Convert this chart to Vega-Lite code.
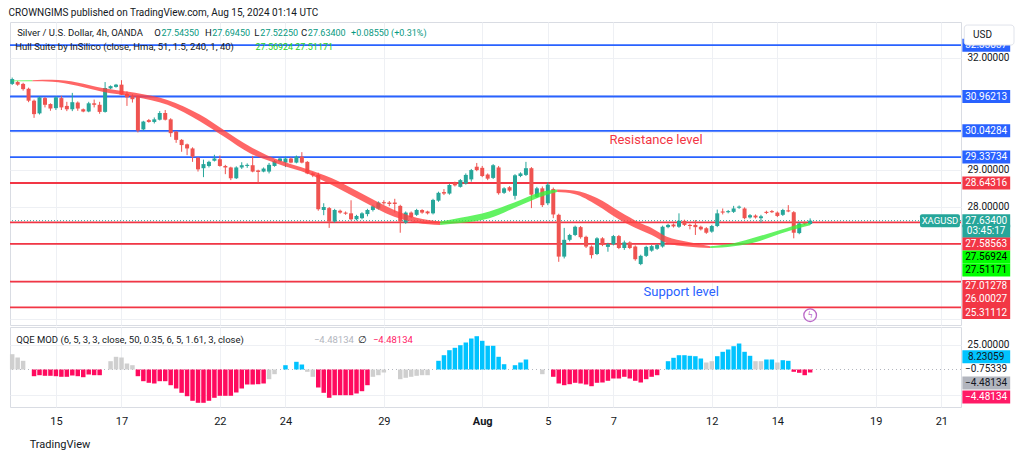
{
"$schema": "https://vega.github.io/schema/vega-lite/v6.json",
"padding": {"left": 8, "top": 7, "right": 0, "bottom": 0},
"background": "#ffffff",
"title": {"text": "CROWNGIMS published on TradingView.com, Aug 15, 2024 01:14 UTC", "anchor": "start", "fontSize": 10, "fontWeight": "normal", "color": "#131722", "offset": 4},
"config": {"font": "Roboto", "view": {"stroke": "#d9dce3"}, "concat": {"spacing": 0}},
"spacing": 0,
"datasets": {
"candles": [
{"i":0,"o":31.30,"h":31.47,"l":31.27,"c":31.43},{"i":1,"o":31.35,"h":31.38,"l":31.25,"c":31.28},{"i":2,"o":31.30,"h":31.33,"l":31.12,"c":31.16},{"i":3,"o":31.17,"h":31.20,"l":30.81,"c":30.85},{"i":4,"o":30.85,"h":30.88,"l":30.39,"c":30.49},
{"i":5,"o":30.51,"h":30.96,"l":30.48,"c":30.94},{"i":6,"o":30.92,"h":30.95,"l":30.67,"c":30.74},{"i":7,"o":30.76,"h":30.78,"l":30.58,"c":30.64},{"i":8,"o":30.65,"h":30.97,"l":30.60,"c":30.94},{"i":9,"o":30.92,"h":30.98,"l":30.60,"c":30.67},
{"i":10,"o":30.71,"h":30.82,"l":30.57,"c":30.62},{"i":11,"o":30.62,"h":31.06,"l":30.57,"c":30.81},{"i":12,"o":30.80,"h":30.83,"l":30.58,"c":30.64},{"i":13,"o":30.62,"h":30.64,"l":30.54,"c":30.56},{"i":14,"o":30.56,"h":30.82,"l":30.54,"c":30.78},
{"i":15,"o":30.78,"h":30.88,"l":30.67,"c":30.74},{"i":16,"o":30.74,"h":30.82,"l":30.50,"c":30.55},{"i":17,"o":30.55,"h":31.35,"l":30.53,"c":31.19},{"i":18,"o":31.18,"h":31.26,"l":31.16,"c":31.24},{"i":19,"o":31.22,"h":31.30,"l":31.20,"c":31.28},
{"i":20,"o":31.28,"h":31.40,"l":31.00,"c":31.01},{"i":21,"o":31.03,"h":31.10,"l":30.71,"c":30.94},{"i":22,"o":30.97,"h":31.02,"l":30.80,"c":30.89},{"i":23,"o":30.96,"h":30.99,"l":30.00,"c":30.05},{"i":24,"o":30.08,"h":30.31,"l":30.05,"c":30.29},
{"i":25,"o":30.33,"h":30.36,"l":30.26,"c":30.28},{"i":26,"o":30.28,"h":30.40,"l":30.24,"c":30.35},{"i":27,"o":30.34,"h":30.57,"l":30.32,"c":30.52},{"i":28,"o":30.52,"h":30.60,"l":30.32,"c":30.34},{"i":29,"o":30.35,"h":30.38,"l":29.88,"c":29.98},
{"i":30,"o":30.02,"h":30.04,"l":29.72,"c":29.80},{"i":31,"o":29.80,"h":29.82,"l":29.48,"c":29.66},{"i":32,"o":29.68,"h":29.70,"l":29.39,"c":29.57},{"i":33,"o":29.57,"h":29.60,"l":29.21,"c":29.35},{"i":34,"o":29.32,"h":29.34,"l":28.95,"c":29.01},
{"i":35,"o":29.04,"h":29.27,"l":28.80,"c":29.15},{"i":36,"o":29.10,"h":29.24,"l":29.06,"c":29.21},{"i":37,"o":29.24,"h":29.40,"l":29.22,"c":29.30},{"i":38,"o":29.28,"h":29.38,"l":29.08,"c":29.10},{"i":39,"o":29.10,"h":29.13,"l":28.88,"c":29.06},
{"i":40,"o":29.06,"h":29.08,"l":28.72,"c":28.77},{"i":41,"o":28.77,"h":29.09,"l":28.75,"c":29.06},{"i":42,"o":29.06,"h":29.20,"l":29.02,"c":29.12},{"i":43,"o":29.10,"h":29.17,"l":29.05,"c":29.13},{"i":44,"o":29.12,"h":29.37,"l":28.93,"c":28.95},
{"i":45,"o":28.98,"h":29.00,"l":28.64,"c":28.94},{"i":46,"o":28.95,"h":29.06,"l":28.93,"c":29.03},{"i":47,"o":28.95,"h":29.18,"l":28.90,"c":29.13},{"i":48,"o":29.10,"h":29.26,"l":29.08,"c":29.23},{"i":49,"o":29.23,"h":29.33,"l":29.20,"c":29.30},
{"i":50,"o":29.19,"h":29.35,"l":29.07,"c":29.30},{"i":51,"o":29.30,"h":29.33,"l":29.17,"c":29.19},{"i":52,"o":29.19,"h":29.38,"l":29.17,"c":29.35},{"i":53,"o":29.35,"h":29.47,"l":29.17,"c":29.19},{"i":54,"o":29.21,"h":29.23,"l":28.88,"c":28.90},
{"i":55,"o":28.90,"h":28.93,"l":28.80,"c":28.85},{"i":56,"o":28.86,"h":28.92,"l":27.90,"c":27.94},{"i":57,"o":27.92,"h":28.10,"l":27.78,"c":28.00},{"i":58,"o":27.97,"h":28.00,"l":27.44,"c":27.61},{"i":59,"o":27.61,"h":27.95,"l":27.58,"c":27.92},
{"i":60,"o":27.90,"h":27.93,"l":27.82,"c":27.85},{"i":61,"o":27.85,"h":27.88,"l":27.79,"c":27.82},{"i":62,"o":27.83,"h":28.18,"l":27.64,"c":27.67},{"i":63,"o":27.67,"h":27.79,"l":27.64,"c":27.76},{"i":64,"o":27.70,"h":27.86,"l":27.67,"c":27.83},
{"i":65,"o":27.81,"h":27.95,"l":27.75,"c":27.92},{"i":66,"o":27.92,"h":28.06,"l":27.88,"c":28.02},{"i":67,"o":27.96,"h":28.15,"l":27.93,"c":28.12},{"i":68,"o":28.13,"h":28.18,"l":28.06,"c":28.10},{"i":69,"o":28.12,"h":28.16,"l":28.02,"c":28.08},
{"i":70,"o":28.12,"h":28.22,"l":27.85,"c":28.08},{"i":71,"o":28.03,"h":28.06,"l":27.31,"c":27.61},{"i":72,"o":27.58,"h":27.88,"l":27.55,"c":27.85},{"i":73,"o":27.85,"h":27.88,"l":27.70,"c":27.73},{"i":74,"o":27.79,"h":27.95,"l":27.76,"c":27.92},
{"i":75,"o":27.92,"h":27.94,"l":27.82,"c":27.85},{"i":76,"o":27.88,"h":27.90,"l":27.80,"c":27.83},{"i":77,"o":27.83,"h":28.22,"l":27.80,"c":28.19},{"i":78,"o":28.17,"h":28.41,"l":28.14,"c":28.38},{"i":79,"o":28.40,"h":28.48,"l":28.32,"c":28.36},
{"i":80,"o":28.36,"h":28.62,"l":28.33,"c":28.59},{"i":81,"o":28.65,"h":28.68,"l":28.55,"c":28.58},{"i":82,"o":28.54,"h":28.75,"l":28.52,"c":28.72},{"i":83,"o":28.63,"h":28.90,"l":28.60,"c":28.86},{"i":84,"o":28.74,"h":29.02,"l":28.68,"c":28.99},
{"i":85,"o":29.08,"h":29.18,"l":28.96,"c":28.99},{"i":86,"o":29.05,"h":29.10,"l":28.80,"c":28.83},{"i":87,"o":28.87,"h":28.90,"l":28.72,"c":28.76},{"i":88,"o":28.78,"h":29.15,"l":28.75,"c":29.12},{"i":89,"o":29.06,"h":29.10,"l":28.33,"c":28.37},
{"i":90,"o":28.38,"h":28.53,"l":28.35,"c":28.50},{"i":91,"o":28.53,"h":28.56,"l":28.41,"c":28.44},{"i":92,"o":28.30,"h":28.88,"l":28.20,"c":28.85},{"i":93,"o":28.83,"h":28.93,"l":28.80,"c":28.90},{"i":94,"o":28.86,"h":29.21,"l":28.83,"c":29.04},
{"i":95,"o":29.04,"h":29.07,"l":27.97,"c":28.33},{"i":96,"o":28.27,"h":28.54,"l":28.24,"c":28.50},{"i":97,"o":28.50,"h":28.55,"l":28.00,"c":28.05},{"i":98,"o":28.10,"h":28.66,"l":28.05,"c":28.60},{"i":99,"o":28.48,"h":28.52,"l":27.70,"c":27.80},
{"i":100,"o":27.79,"h":27.82,"l":26.53,"c":26.67},{"i":101,"o":26.67,"h":27.44,"l":26.62,"c":27.12},{"i":102,"o":27.12,"h":27.28,"l":27.08,"c":27.25},{"i":103,"o":27.25,"h":27.50,"l":27.22,"c":27.47},{"i":104,"o":27.46,"h":27.49,"l":27.15,"c":27.19},
{"i":105,"o":27.20,"h":27.23,"l":26.90,"c":26.94},{"i":106,"o":26.94,"h":26.97,"l":26.62,"c":26.71},{"i":107,"o":26.74,"h":27.19,"l":26.71,"c":27.16},{"i":108,"o":27.16,"h":27.19,"l":26.95,"c":26.98},{"i":109,"o":26.93,"h":27.04,"l":26.80,"c":27.00},
{"i":110,"o":27.00,"h":27.25,"l":26.97,"c":27.22},{"i":111,"o":27.22,"h":27.25,"l":26.87,"c":26.90},{"i":112,"o":26.90,"h":27.10,"l":26.85,"c":27.05},{"i":113,"o":27.05,"h":27.08,"l":26.87,"c":26.90},{"i":114,"o":26.94,"h":26.97,"l":26.56,"c":26.60},
{"i":115,"o":26.47,"h":26.72,"l":26.44,"c":26.69},{"i":116,"o":26.69,"h":26.96,"l":26.66,"c":26.93},{"i":117,"o":26.83,"h":26.98,"l":26.80,"c":26.95},{"i":118,"o":26.88,"h":27.01,"l":26.85,"c":26.98},{"i":119,"o":26.94,"h":27.50,"l":26.91,"c":27.47},
{"i":120,"o":27.46,"h":27.55,"l":27.43,"c":27.52},{"i":121,"o":27.53,"h":27.56,"l":27.45,"c":27.48},{"i":122,"o":27.47,"h":27.83,"l":27.44,"c":27.63},{"i":123,"o":27.63,"h":27.66,"l":27.49,"c":27.52},{"i":124,"o":27.52,"h":27.55,"l":27.40,"c":27.49},
{"i":125,"o":27.52,"h":27.65,"l":27.25,"c":27.46},{"i":126,"o":27.47,"h":27.50,"l":27.37,"c":27.40},{"i":127,"o":27.43,"h":27.46,"l":27.28,"c":27.31},{"i":128,"o":27.34,"h":27.52,"l":27.31,"c":27.49},{"i":129,"o":27.49,"h":27.93,"l":27.46,"c":27.83},
{"i":130,"o":27.88,"h":27.96,"l":27.80,"c":27.85},{"i":131,"o":27.86,"h":27.92,"l":27.83,"c":27.89},{"i":132,"o":27.87,"h":28.03,"l":27.84,"c":27.96},{"i":133,"o":27.98,"h":28.04,"l":27.95,"c":28.01},{"i":134,"o":27.96,"h":27.99,"l":27.67,"c":27.70},
{"i":135,"o":27.72,"h":27.81,"l":27.69,"c":27.78},{"i":136,"o":27.77,"h":27.80,"l":27.69,"c":27.72},{"i":137,"o":27.70,"h":27.79,"l":27.58,"c":27.75},{"i":138,"o":27.87,"h":27.90,"l":27.81,"c":27.84},{"i":139,"o":27.89,"h":27.92,"l":27.84,"c":27.86},
{"i":140,"o":27.85,"h":27.88,"l":27.73,"c":27.76},{"i":141,"o":27.79,"h":27.95,"l":27.76,"c":27.92},{"i":142,"o":27.91,"h":28.05,"l":27.86,"c":27.88},{"i":143,"o":27.86,"h":27.89,"l":27.16,"c":27.31},{"i":144,"o":27.30,"h":27.59,"l":27.27,"c":27.56},
{"i":145,"o":27.58,"h":27.61,"l":27.52,"c":27.55},{"i":146,"o":27.5435,"h":27.6945,"l":27.5225,"c":27.634}
],
"band": [
{"i":0,"a":31.39,"b":31.37,"s":"g1","d":"rise"},{"i":3.7,"a":31.40,"b":31.37,"s":"g1","d":"rise"},
{"i":3.7,"a":31.40,"b":31.37,"s":"r1","d":"fall"},{"i":7.3,"a":31.41,"b":31.36,"s":"r1","d":"fall"},{"i":11.9,"a":31.34,"b":31.25,"s":"r1","d":"fall"},{"i":16.5,"a":31.19,"b":31.09,"s":"r1","d":"fall"},{"i":22.5,"a":31.06,"b":30.95,"s":"r1","d":"fall"},{"i":28.4,"a":30.87,"b":30.74,"s":"r1","d":"fall"},{"i":34.4,"a":30.47,"b":30.29,"s":"r1","d":"fall"},{"i":38.8,"a":30.06,"b":29.88,"s":"r1","d":"fall"},{"i":43.5,"a":29.62,"b":29.44,"s":"r1","d":"fall"},{"i":46.6,"a":29.39,"b":29.26,"s":"r1","d":"fall"},{"i":49.7,"a":29.21,"b":29.10,"s":"r1","d":"fall"},{"i":54,"a":29.01,"b":28.90,"s":"r1","d":"fall"},{"i":58.5,"a":28.77,"b":28.59,"s":"r1","d":"fall"},{"i":63.7,"a":28.38,"b":28.19,"s":"r1","d":"fall"},{"i":69.9,"a":27.92,"b":27.74,"s":"r1","d":"fall"},{"i":74,"a":27.71,"b":27.58,"s":"r1","d":"fall"},{"i":78.3,"a":27.61,"b":27.52,"s":"r1","d":"fall"},
{"i":78.3,"a":27.61,"b":27.52,"s":"g2","d":"rise"},{"i":82,"a":27.71,"b":27.57,"s":"g2","d":"rise"},{"i":87.3,"a":27.88,"b":27.70,"s":"g2","d":"rise"},{"i":93,"a":28.19,"b":28.05,"s":"g2","d":"rise"},{"i":97.3,"a":28.42,"b":28.30,"s":"g2","d":"rise"},{"i":99.7,"a":28.47,"b":28.40,"s":"g2","d":"rise"},
{"i":99.7,"a":28.47,"b":28.40,"s":"r2","d":"fall"},{"i":102.8,"a":28.44,"b":28.35,"s":"r2","d":"fall"},{"i":107,"a":28.24,"b":28.05,"s":"r2","d":"fall"},{"i":111.2,"a":27.87,"b":27.65,"s":"r2","d":"fall"},{"i":114.9,"a":27.57,"b":27.38,"s":"r2","d":"fall"},{"i":117,"a":27.44,"b":27.25,"s":"r2","d":"fall"},{"i":119.8,"a":27.20,"b":27.03,"s":"r2","d":"fall"},{"i":123.5,"a":27.07,"b":26.94,"s":"r2","d":"fall"},{"i":127.7,"a":26.95,"b":26.90,"s":"r2","d":"fall"},
{"i":127.7,"a":26.95,"b":26.90,"s":"g3","d":"rise"},{"i":132,"a":27.03,"b":26.95,"s":"g3","d":"rise"},{"i":136.3,"a":27.20,"b":27.07,"s":"g3","d":"rise"},{"i":140.5,"a":27.38,"b":27.28,"s":"g3","d":"rise"},{"i":144.9,"a":27.56,"b":27.47,"s":"g3","d":"rise"},{"i":146,"a":27.57,"b":27.51,"s":"g3","d":"rise"}
],
"qqe": [
{"i":0,"v":15.3,"s":"g"},{"i":1,"v":12,"s":"g"},{"i":2,"v":8.7,"s":"g"},{"i":4,"v":-6.7,"s":"r"},{"i":5,"v":-5.7,"s":"r"},{"i":6,"v":-6.3,"s":"r"},{"i":7,"v":-6.3,"s":"r"},{"i":8,"v":-6.7,"s":"r"},{"i":9,"v":-7.3,"s":"r"},{"i":10,"v":-7.3,"s":"r"},{"i":11,"v":-6,"s":"r"},{"i":12,"v":-6.7,"s":"r"},{"i":13,"v":-7.7,"s":"r"},{"i":14,"v":-5,"s":"r"},{"i":15,"v":-5.7,"s":"r"},{"i":16,"v":-5.7,"s":"r"},
{"i":18,"v":8.3,"s":"g"},{"i":19,"v":12.7,"s":"g"},{"i":20,"v":12,"s":"g"},{"i":21,"v":6,"s":"g"},{"i":22,"v":4.3,"s":"g"},
{"i":23,"v":-6.7,"s":"r"},{"i":24,"v":-11.7,"s":"r"},{"i":25,"v":-13.3,"s":"r"},{"i":26,"v":-14,"s":"r"},{"i":27,"v":-11.7,"s":"r"},{"i":28,"v":-11.7,"s":"r"},{"i":29,"v":-15.7,"s":"r"},{"i":30,"v":-19,"s":"r"},{"i":31,"v":-23.3,"s":"r"},{"i":32,"v":-26.7,"s":"r"},{"i":33,"v":-31.3,"s":"r"},{"i":34,"v":-33.3,"s":"r"},{"i":35,"v":-33.3,"s":"r"},{"i":36,"v":-31.3,"s":"r"},{"i":37,"v":-28.3,"s":"r"},{"i":38,"v":-26.3,"s":"r"},{"i":39,"v":-26.3,"s":"r"},{"i":40,"v":-26.3,"s":"r"},{"i":41,"v":-23,"s":"r"},{"i":42,"v":-19,"s":"r"},{"i":43,"v":-15,"s":"r"},{"i":44,"v":-15,"s":"r"},{"i":45,"v":-14.7,"s":"r"},{"i":46,"v":-14,"s":"r"},
{"i":47,"v":-9.7,"s":"g"},{"i":48,"v":-4.7,"s":"g"},{"i":50,"v":4.3,"s":"b"},{"i":52,"v":7.7,"s":"b"},{"i":53,"v":5,"s":"b"},{"i":54,"v":-2.3,"s":"g"},{"i":55,"v":-7.3,"s":"g"},
{"i":56,"v":-18,"s":"r"},{"i":57,"v":-23.3,"s":"r"},{"i":58,"v":-28.3,"s":"r"},{"i":59,"v":-25.7,"s":"r"},{"i":60,"v":-25.7,"s":"r"},{"i":61,"v":-25.7,"s":"r"},{"i":62,"v":-25.7,"s":"r"},{"i":63,"v":-24,"s":"r"},{"i":64,"v":-21.7,"s":"r"},{"i":65,"v":-15.7,"s":"r"},
{"i":66,"v":-7.3,"s":"g"},{"i":67,"v":-5.7,"s":"g"},{"i":68,"v":-3,"s":"g"},{"i":71,"v":-9.7,"s":"g"},{"i":72,"v":-8.3,"s":"g"},{"i":73,"v":-7.3,"s":"g"},{"i":74,"v":-6.3,"s":"g"},{"i":75,"v":-5.7,"s":"g"},{"i":76,"v":-5.7,"s":"g"},
{"i":78,"v":8.7,"s":"b"},{"i":79,"v":14.3,"s":"b"},{"i":80,"v":19.3,"s":"b"},{"i":81,"v":21.7,"s":"b"},{"i":82,"v":24.3,"s":"b"},{"i":83,"v":27,"s":"b"},{"i":84,"v":31,"s":"b"},{"i":85,"v":33.3,"s":"b"},{"i":86,"v":28.7,"s":"b"},{"i":87,"v":23.7,"s":"b"},{"i":88,"v":23.7,"s":"b"},{"i":89,"v":12.7,"s":"b"},{"i":90,"v":5.3,"s":"b"},{"i":92,"v":4.3,"s":"b"},{"i":93,"v":7,"s":"b"},{"i":94,"v":10,"s":"b"},
{"i":97,"v":-4.7,"s":"g"},
{"i":99,"v":-7.3,"s":"r"},{"i":100,"v":-14,"s":"r"},{"i":101,"v":-15.7,"s":"r"},{"i":102,"v":-14.7,"s":"r"},{"i":103,"v":-13.3,"s":"r"},{"i":104,"v":-14,"s":"r"},{"i":105,"v":-15,"s":"r"},{"i":106,"v":-16.7,"s":"r"},{"i":107,"v":-13.3,"s":"r"},{"i":108,"v":-13,"s":"r"},{"i":109,"v":-11.3,"s":"r"},{"i":110,"v":-9,"s":"r"},{"i":111,"v":-9,"s":"r"},{"i":112,"v":-7.3,"s":"r"},{"i":113,"v":-9,"s":"r"},{"i":114,"v":-11.3,"s":"r"},{"i":115,"v":-13,"s":"r"},{"i":116,"v":-9.7,"s":"r"},{"i":117,"v":-7.3,"s":"r"},{"i":118,"v":-5.7,"s":"r"},
{"i":120,"v":8.3,"s":"b"},{"i":121,"v":11.7,"s":"b"},{"i":122,"v":14.3,"s":"b"},{"i":123,"v":14.3,"s":"b"},{"i":124,"v":13.7,"s":"b"},{"i":125,"v":13.3,"s":"b"},{"i":126,"v":11,"s":"b"},{"i":127,"v":7,"s":"g"},{"i":128,"v":8.3,"s":"g"},
{"i":129,"v":13.3,"s":"b"},{"i":130,"v":17.7,"s":"b"},{"i":131,"v":20,"s":"b"},{"i":132,"v":23.3,"s":"b"},{"i":133,"v":26,"s":"b"},{"i":134,"v":17.7,"s":"b"},{"i":135,"v":13.7,"s":"b"},{"i":136,"v":8.3,"s":"g"},{"i":137,"v":8.3,"s":"g"},{"i":138,"v":10,"s":"b"},{"i":139,"v":10,"s":"b"},{"i":140,"v":7,"s":"g"},{"i":141,"v":9.3,"s":"b"},{"i":142,"v":8.7,"s":"b"},
{"i":143,"v":-2.3,"s":"r"},{"i":144,"v":-3.3,"s":"r"},{"i":145,"v":-5.7,"s":"r"},{"i":146,"v":-3,"s":"r"}
]
},
"vconcat": [
{
"width": 951, "height": 303,
"layer": [
{"data": {"values": [{"p":32.33837,"k":"blue"},{"p":30.96213,"k":"blue"},{"p":30.04284,"k":"blue"},{"p":29.33734,"k":"blue"},{"p":28.64316,"k":"red"},{"p":27.58563,"k":"red"},{"p":27.01278,"k":"red"},{"p":26.00027,"k":"red"},{"p":25.31112,"k":"red"}]},
 "mark": {"type": "rule", "strokeWidth": 1.8},
 "encoding": {
  "y": {"field": "p", "type": "quantitative", "title": null, "scale": {"domain": [24.836, 32.96], "nice": false, "zero": false, "padding": 0},
        "axis": {"orient": "right", "values": [25,26,27,28,29,30,31,32], "labelExpr": "indexof([28,29,32], datum.value) >= 0 ? format(datum.value, '.5f') : ''", "labelPadding": 6, "labelFontSize": 10, "labelColor": "#131722", "ticks": false, "domain": false, "grid": true, "gridColor": "#eef0f4", "title": null}},
  "color": {"field": "k", "type": "nominal", "legend": null, "scale": {"domain":["rise","fall","dark","teal","lime","blue","red","green","tbox","white","black","b","r","g","qblue","pink","gray"],"range":["#3cf03c","#ff4040","#131722","#089981","#1fcf1f","#2962ff","#f23645","#00ff00","#26a69a","#ffffff","#000000","#00c3ff","#ff0a5e","#cfcfcf","#00c3ff","#ff1a66","#b2b5be"]}}
 }},
{"data": {"values": [{"p": 27.634}]},
 "mark": {"type": "rule", "stroke": "#26a69a", "strokeWidth": 1, "strokeDash": [1, 2]},
 "encoding": {"y": {"field": "p", "type": "quantitative", "title": null}}},
{"data": {"name": "candles"},
 "mark": {"type": "rule", "strokeWidth": 1},
 "encoding": {
  "x": {"field": "i", "type": "quantitative", "title": null, "scale": {"domain": [-0.4, 173.6], "nice": false, "zero": false, "padding": 0},
        "axis": {"values": [8,20,38,50,68,86,98,110,128,140,158,170], "labels": false, "ticks": false, "domain": false, "grid": true, "gridColor": "#eef0f4", "title": null}},
  "y": {"field": "l", "type": "quantitative", "title": null},
  "y2": {"field": "h"},
  "color": {"condition": {"test": "datum.c >= datum.o", "value": "#26a69a"}, "value": "#ef5350"}
 }},
{"data": {"name": "candles"},
 "mark": {"type": "bar", "width": 4},
 "encoding": {
  "x": {"field": "i", "type": "quantitative", "title": null},
  "y": {"field": "o", "type": "quantitative", "title": null},
  "y2": {"field": "c"},
  "color": {"condition": {"test": "datum.c >= datum.o", "value": "#26a69a"}, "value": "#ef5350"}
 }},
{"data": {"name": "band"},
 "mark": {"type": "area", "interpolate": "monotone", "opacity": 0.8},
 "encoding": {
  "x": {"field": "i", "type": "quantitative", "title": null},
  "y": {"field": "a", "type": "quantitative", "title": null},
  "y2": {"field": "b"},
  "detail": {"field": "s", "type": "nominal"},
  "color": {"field": "d", "type": "nominal", "legend": null, "scale": {"domain":["rise","fall","dark","teal","lime","blue","red","green","tbox","white","black","b","r","g","qblue","pink","gray"],"range":["#3cf03c","#ff4040","#131722","#089981","#1fcf1f","#2962ff","#f23645","#00ff00","#26a69a","#ffffff","#000000","#00c3ff","#ff0a5e","#cfcfcf","#00c3ff","#ff1a66","#b2b5be"]}}
 }},
{"data": {"values": [
  {"t":"Silver / U.S. Dollar, 4h, OANDA","i":0.91,"p":32.665,"k":"dark"},
  {"t":"O","i":25.97,"p":32.665,"k":"dark"},{"t":"27.54350","i":27.3,"p":32.665,"k":"teal"},
  {"t":"H","i":35.3,"p":32.665,"k":"dark"},{"t":"27.69450","i":36.6,"p":32.665,"k":"teal"},
  {"t":"L","i":44.27,"p":32.665,"k":"dark"},{"t":"27.52250","i":45.4,"p":32.665,"k":"teal"},
  {"t":"C","i":52.86,"p":32.665,"k":"dark"},{"t":"27.63400","i":54.1,"p":32.665,"k":"teal"},
  {"t":"+0.08550 (+0.31%)","i":62.0,"p":32.665,"k":"teal"},
  {"t":"Hull Suite by InSilico (close, Hma, 51, 1.5, 240, 1, 40)","i":0.55,"p":32.29,"k":"dark"},
  {"t":"27.56924","i":44.5,"p":32.29,"k":"lime"},{"t":"27.51171","i":51.8,"p":32.29,"k":"lime"}
 ]},
 "mark": {"type": "text", "align": "left", "baseline": "middle"},
 "encoding": {
  "x": {"field": "i", "type": "quantitative", "title": null},
  "y": {"field": "p", "type": "quantitative", "title": null},
  "text": {"field": "t"},
  "size": {"condition": {"test": "datum.k == 'dark'", "value": 9.5}, "value": 9},
  "color": {"field": "k", "type": "nominal", "legend": null, "scale": {"domain":["rise","fall","dark","teal","lime","blue","red","green","tbox","white","black","b","r","g","qblue","pink","gray"],"range":["#3cf03c","#ff4040","#131722","#089981","#1fcf1f","#2962ff","#f23645","#00ff00","#26a69a","#ffffff","#000000","#00c3ff","#ff0a5e","#cfcfcf","#00c3ff","#ff1a66","#b2b5be"]}}
 }},
{"data": {"values": [{"t":"Resistance level","i":117.8,"p":29.80,"k":"red"},{"t":"Support level","i":122.4,"p":25.72,"k":"blue"}]},
 "mark": {"type": "text", "align": "center", "baseline": "middle", "fontSize": 13},
 "encoding": {
  "x": {"field": "i", "type": "quantitative", "title": null},
  "y": {"field": "p", "type": "quantitative", "title": null},
  "text": {"field": "t"},
  "color": {"field": "k", "type": "nominal", "legend": null, "scale": {"domain":["rise","fall","dark","teal","lime","blue","red","green","tbox","white","black","b","r","g","qblue","pink","gray"],"range":["#3cf03c","#ff4040","#131722","#089981","#1fcf1f","#2962ff","#f23645","#00ff00","#26a69a","#ffffff","#000000","#00c3ff","#ff0a5e","#cfcfcf","#00c3ff","#ff1a66","#b2b5be"]}}
 }},
{"data": {"values": [{"p": 27.634}]},
 "mark": {"type": "rect", "fill": "#26a69a", "cornerRadius": 2, "yOffset": -6.5, "y2Offset": 6.5},
 "encoding": {"x": {"datum": 166.1}, "x2": {"datum": 173.4}, "y": {"field": "p", "type": "quantitative", "title": null}, "y2": {"field": "p"}}},
{"data": {"values": [{"p": 27.634, "t": "XAGUSD"}]},
 "mark": {"type": "text", "fill": "#ffffff", "fontSize": 9.5, "align": "center", "baseline": "middle"},
 "encoding": {"x": {"datum": 169.75}, "y": {"field": "p", "type": "quantitative", "title": null}, "text": {"field": "t"}}},
{"data": {"values": [
  {"t":"32.33837","ly":32.33837,"bc":"blue","tc":"white"},
  {"t":"30.96213","ly":30.96213,"bc":"blue","tc":"white"},
  {"t":"30.04284","ly":30.04284,"bc":"blue","tc":"white"},
  {"t":"29.33734","ly":29.33734,"bc":"blue","tc":"white"},
  {"t":"28.64316","ly":28.64316,"bc":"red","tc":"white"},
  {"t":"27.63400","ly":27.634,"bc":"tbox","tc":"white"},
  {"t":"03:45:17","ly":27.35,"bc":"tbox","tc":"white"},
  {"t":"27.58563","ly":27.01,"bc":"red","tc":"white"},
  {"t":"27.56924","ly":26.66,"bc":"green","tc":"black"},
  {"t":"27.51171","ly":26.31,"bc":"green","tc":"black"},
  {"t":"27.01278","ly":25.87,"bc":"red","tc":"white"},
  {"t":"26.00027","ly":25.52,"bc":"red","tc":"white"},
  {"t":"25.31112","ly":25.17,"bc":"red","tc":"white"}
 ]},
 "layer": [
  {"mark": {"type": "rect", "yOffset": -6.5, "y2Offset": 6.5},
   "encoding": {"x": {"datum": 173.85}, "x2": {"datum": 182.6}, "y": {"field": "ly", "type": "quantitative", "title": null}, "y2": {"field": "ly"},
    "color": {"field": "bc", "type": "nominal", "legend": null, "scale": {"domain":["rise","fall","dark","teal","lime","blue","red","green","tbox","white","black","b","r","g","qblue","pink","gray"],"range":["#3cf03c","#ff4040","#131722","#089981","#1fcf1f","#2962ff","#f23645","#00ff00","#26a69a","#ffffff","#000000","#00c3ff","#ff0a5e","#cfcfcf","#00c3ff","#ff1a66","#b2b5be"]}}}},
  {"mark": {"type": "text", "fontSize": 10, "align": "center", "baseline": "middle"},
   "encoding": {"x": {"datum": 178.2}, "y": {"field": "ly", "type": "quantitative", "title": null}, "text": {"field": "t"},
    "color": {"field": "tc", "type": "nominal", "legend": null, "scale": {"domain":["rise","fall","dark","teal","lime","blue","red","green","tbox","white","black","b","r","g","qblue","pink","gray"],"range":["#3cf03c","#ff4040","#131722","#089981","#1fcf1f","#2962ff","#f23645","#00ff00","#26a69a","#ffffff","#000000","#00c3ff","#ff0a5e","#cfcfcf","#00c3ff","#ff1a66","#b2b5be"]}}}}
 ]},
{"data": {"values": [{"p": 32.61, "t": "USD"}]},
 "layer": [
  {"mark": {"type": "rect", "fill": "#ffffff", "stroke": "#e0e3eb", "cornerRadius": 3, "yOffset": -10, "y2Offset": 10},
   "encoding": {"x": {"datum": 174.2}, "x2": {"datum": 183.3}, "y": {"field": "p", "type": "quantitative", "title": null}, "y2": {"field": "p"}}},
  {"mark": {"type": "text", "fontSize": 10, "align": "left", "baseline": "middle", "fill": "#131722"},
   "encoding": {"x": {"datum": 175.8}, "y": {"field": "p", "type": "quantitative", "title": null}, "text": {"field": "t"}}}
 ]},
{"data": {"values": [{"p": 25.10, "t": "ϟ"}]},
 "layer": [
  {"mark": {"type": "point", "shape": "circle", "size": 160, "filled": false, "stroke": "#9c27b0", "strokeWidth": 1.3},
   "encoding": {"x": {"datum": 146}, "y": {"field": "p", "type": "quantitative", "title": null}}},
  {"mark": {"type": "text", "fontSize": 10, "align": "center", "baseline": "middle", "fill": "#9c27b0"},
   "encoding": {"x": {"datum": 146}, "y": {"field": "p", "type": "quantitative", "title": null}, "text": {"field": "t"}}}
 ]}
]
},
{
"width": 951, "height": 80,
"layer": [
{"data": {"values": [{"v": 0}]},
 "mark": {"type": "rule", "stroke": "#b2b5be", "strokeDash": [1, 3], "strokeWidth": 1},
 "encoding": {"y": {"field": "v", "type": "quantitative", "title": null}}},
{"data": {"name": "qqe"},
 "mark": {"type": "bar", "width": 4.5},
 "encoding": {
  "x": {"field": "i", "type": "quantitative", "title": null, "scale": {"domain": [-0.4, 173.6], "nice": false, "zero": false, "padding": 0},
        "axis": {"values": [8,20,38,50,68,86,98,110,128,140,158,170],
                 "labelExpr": "['15','17','22','24','29','Aug','5','7','12','14','19','21'][indexof([8,20,38,50,68,86,98,110,128,140,158,170], datum.value)]",
                 "labelFontWeight": {"condition": {"test": "datum.value == 86", "value": "bold"}, "value": "normal"},
                 "labelFontSize": 11, "labelColor": "#131722", "labelPadding": 8, "ticks": false, "domain": false, "grid": true, "gridColor": "#eef0f4", "title": null}},
  "y": {"field": "v", "type": "quantitative", "title": null, "scale": {"domain": [-37.5, 42.5], "nice": false, "zero": false, "padding": 0},
        "axis": {"orient": "right", "values": [-25, 25], "labelExpr": "datum.value == 25 ? '25.00000' : ''", "labelPadding": 6, "labelFontSize": 10, "labelColor": "#131722", "ticks": false, "domain": false, "grid": true, "gridColor": "#eef0f4", "title": null}},
  "y2": {"datum": 0},
  "color": {"field": "s", "type": "nominal", "legend": null, "scale": {"domain":["rise","fall","dark","teal","lime","blue","red","green","tbox","white","black","b","r","g","qblue","pink","gray"],"range":["#3cf03c","#ff4040","#131722","#089981","#1fcf1f","#2962ff","#f23645","#00ff00","#26a69a","#ffffff","#000000","#00c3ff","#ff0a5e","#cfcfcf","#00c3ff","#ff1a66","#b2b5be"]}}
 }},
{"data": {"values": [
  {"t":"QQE MOD (6, 5, 3, 3, close, 50, 0.35, 6, 5, 1.61, 3, close)","i":0.73,"v":29.5,"k":"dark"},
  {"t":"−4.48134","i":55.2,"v":29.5,"k":"gray"},
  {"t":"∅","i":63.3,"v":29.5,"k":"dark"},
  {"t":"−4.48134","i":66,"v":29.5,"k":"pink"},
  {"t":"TradingView","i":3.2,"v":-75.5,"k":"dark"}
 ]},
 "mark": {"type": "text", "align": "left", "baseline": "middle", "fontSize": 9.5},
 "encoding": {
  "x": {"field": "i", "type": "quantitative", "title": null},
  "y": {"field": "v", "type": "quantitative", "title": null},
  "text": {"field": "t"},
  "fontWeight": {"condition": {"test": "datum.t == 'TradingView'", "value": "bold"}, "value": "normal"},
  "size": {"condition": {"test": "datum.t == 'TradingView'", "value": 11}, "value": 9.5},
  "color": {"field": "k", "type": "nominal", "legend": null, "scale": {"domain":["rise","fall","dark","teal","lime","blue","red","green","tbox","white","black","b","r","g","qblue","pink","gray"],"range":["#3cf03c","#ff4040","#131722","#089981","#1fcf1f","#2962ff","#f23645","#00ff00","#26a69a","#ffffff","#000000","#00c3ff","#ff0a5e","#cfcfcf","#00c3ff","#ff1a66","#b2b5be"]}}
 }},
{"data": {"values": [
  {"t":"8.23059","ly":12.8,"bc":"qblue","tc":"dark"},
  {"t":"−4.48134","ly":-13.5,"bc":"gray","tc":"dark"},
  {"t":"−4.48134","ly":-27.5,"bc":"pink","tc":"white"}
 ]},
 "layer": [
  {"mark": {"type": "rect", "yOffset": -6.5, "y2Offset": 6.5},
   "encoding": {"x": {"datum": 173.85}, "x2": {"datum": 182.6}, "y": {"field": "ly", "type": "quantitative", "title": null}, "y2": {"field": "ly"},
    "color": {"field": "bc", "type": "nominal", "legend": null, "scale": {"domain":["rise","fall","dark","teal","lime","blue","red","green","tbox","white","black","b","r","g","qblue","pink","gray"],"range":["#3cf03c","#ff4040","#131722","#089981","#1fcf1f","#2962ff","#f23645","#00ff00","#26a69a","#ffffff","#000000","#00c3ff","#ff0a5e","#cfcfcf","#00c3ff","#ff1a66","#b2b5be"]}}}},
  {"mark": {"type": "text", "fontSize": 10, "align": "center", "baseline": "middle"},
   "encoding": {"x": {"datum": 178.2}, "y": {"field": "ly", "type": "quantitative", "title": null}, "text": {"field": "t"},
    "color": {"field": "tc", "type": "nominal", "legend": null, "scale": {"domain":["rise","fall","dark","teal","lime","blue","red","green","tbox","white","black","b","r","g","qblue","pink","gray"],"range":["#3cf03c","#ff4040","#131722","#089981","#1fcf1f","#2962ff","#f23645","#00ff00","#26a69a","#ffffff","#000000","#00c3ff","#ff0a5e","#cfcfcf","#00c3ff","#ff1a66","#b2b5be"]}}}}
 ]},
{"data": {"values": [{"t":"−0.75339","ly":0.2}]},
 "mark": {"type": "text", "fontSize": 10, "align": "center", "baseline": "middle", "fill": "#131722"},
 "encoding": {"x": {"datum": 178.2}, "y": {"field": "ly", "type": "quantitative", "title": null}, "text": {"field": "t"}}}
]
}
]
}
